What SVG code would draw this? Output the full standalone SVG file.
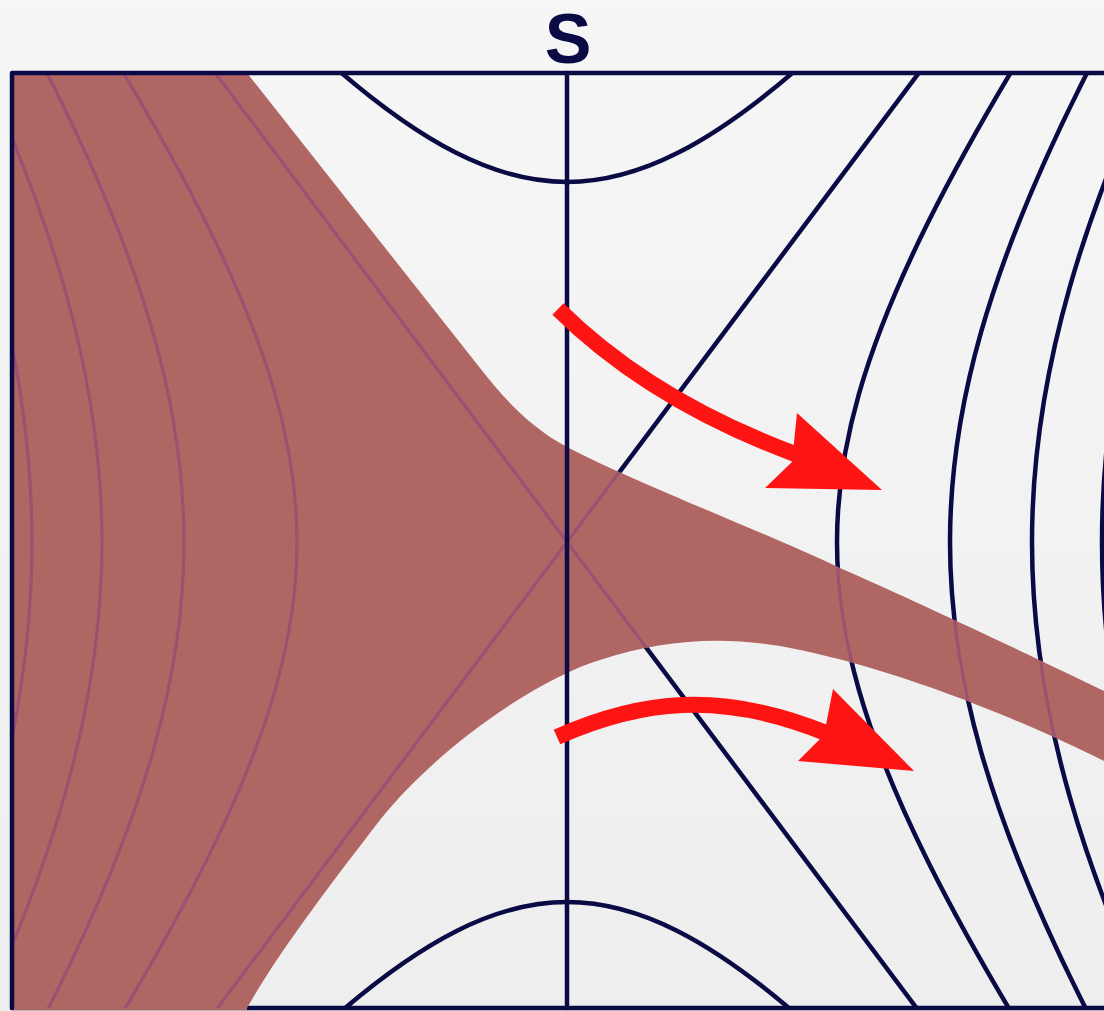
<svg xmlns="http://www.w3.org/2000/svg" width="1104" height="1011" viewBox="0 0 1104 1011">
<defs>
<linearGradient id="bg" x1="0" y1="0" x2="0" y2="1">
<stop offset="0" stop-color="#f6f6f6"/>
<stop offset="1" stop-color="#eeeeee"/>
</linearGradient>
<clipPath id="frameClip"><rect x="12" y="73" width="1100" height="935"/></clipPath>
<clipPath id="brownClip"><path d="M12,73 L247,73 L480,368 C499.6,393 527,426 567,447 C640,485 760,530 840,568 C920,603 1040,660 1106,692 L1106,762 C1030,724 900,668 780,646 C720,636 660,640 600,660 C540,678 440,745 380,820 C330,885 280,950 247,1008 L247,1012 L12,1012 Z"/></clipPath>
<path id="hyp" class="c" d="M2.577464,-2.375568 C2.260722,-2.031906 2.011917,-1.750882 1.810656,-1.509461 C1.609395,-1.26804 1.455849,-1.066431 1.337435,-0.888106 C1.219021,-0.709781 1.135839,-0.554895 1.081072,-0.410752 C1.026305,-0.266609 1,-0.133333 1,0 C1,0.133333 1.026305,0.266609 1.081072,0.410752 C1.135839,0.554895 1.219021,0.709781 1.337435,0.888106 C1.455849,1.066431 1.609395,1.26804 1.810656,1.509461 C2.011917,1.750882 2.260722,2.031906 2.577464,2.375568"/>
<g id="contourSet">
<use href="#hyp" transform="matrix(270,0,0,360,567,542)"/>
<use href="#hyp" transform="matrix(383,0,0,510.7,567,542)"/>
<use href="#hyp" transform="matrix(465,0,0,620,567,542)"/>
<use href="#hyp" transform="matrix(535,0,0,713.3,567,542)"/>
<use href="#hyp" transform="matrix(-270,0,0,360,567,542)"/>
<use href="#hyp" transform="matrix(-383,0,0,510.7,567,542)"/>
<use href="#hyp" transform="matrix(-465,0,0,620,567,542)"/>
<use href="#hyp" transform="matrix(-535,0,0,713.3,567,542)"/>
<use href="#hyp" transform="matrix(0,-360,270,0,567,542)"/>
<use href="#hyp" transform="matrix(0,360,270,0,567,542)"/>
<path class="c" d="M207,62 L927,1022 M927,62 L207,1022"/>
</g>
<style>
.c{fill:none;vector-effect:non-scaling-stroke;stroke-linejoin:round}
.navy{stroke:#0a0a44;stroke-width:4.5}
.faint{stroke:#9a5272;stroke-width:3.2}
.frame{fill:none;stroke:#0a0a44;stroke-width:4.5;stroke-linejoin:round;stroke-linecap:round}
.arrow{fill:#ff1414}
.shaft{fill:none;stroke:#ff1414;stroke-width:16;stroke-linecap:butt}
</style>
</defs>

<rect id="background" width="1104" height="1011" fill="url(#bg)"/>

<g id="frame-bottom">
<path class="frame" d="M1110,1008 L12,1008"/>
</g>

<g id="contours" clip-path="url(#frameClip)">
<use href="#contourSet" class="navy"/>
</g>

<g id="region">
<path fill="#b06663" d="M12,73 L247,73 L480,368 C499.6,393 527,426 567,447 C640,485 760,530 840,568 C920,603 1040,660 1106,692 L1106,762 C1030,724 900,668 780,646 C720,636 660,640 600,660 C540,678 440,745 380,820 C330,885 280,950 247,1008 L247,1010 L12,1010 Z"/>
</g>

<g id="contours-under-region" clip-path="url(#frameClip)">
<g clip-path="url(#brownClip)">
<use href="#contourSet" class="faint"/>
</g>
</g>

<g id="frame">
<path class="frame" d="M12,1008 L12,73 L1110,73"/>
</g>

<g id="S-line">
<path class="frame" d="M567,73 L567,1008" stroke-linecap="butt"/>
</g>

<g id="label-S">
<text x="568" y="63" font-family="'Liberation Sans',Arial,sans-serif" font-weight="bold" font-size="70" fill="#0a0a44" text-anchor="middle">S</text>
</g>

<g id="connectors">
<g id="arrow-upper">
<path class="shaft" d="M558,309 Q650,400 795,454"/>
<polygon class="arrow" points="797,413 882,490 765,488 792,462"/>
</g>
<g id="arrow-lower">
<path class="shaft" d="M557,737 C640,700 720,690 826,733"/>
<polygon class="arrow" points="833,689 914,771 798,761 824,735"/>
</g>
</g>
</svg>
